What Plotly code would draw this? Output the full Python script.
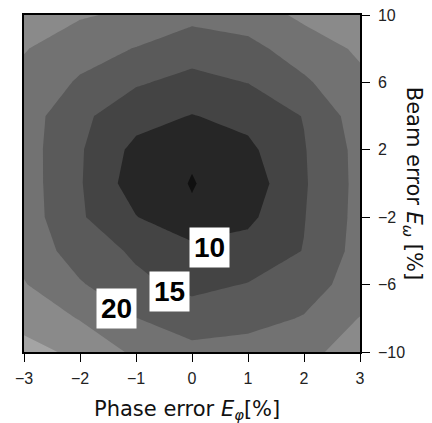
import plotly.graph_objects as go

# Grid
phase_err = [-3, -2, -1, 0, 1, 2, 3]
beam_err = [10, 8, 6, 4, 2, 0, -2, -4, -6, -8, -10]
z_vals = [
    [28.0, 25.5, 24.0, 21.5, 22.5, 26.0, 27.5],
    [25.3, 22.0, 19.8, 17.0, 18.5, 22.5, 25.7],
    [23.5, 19.4, 15.5, 13.6, 15.1, 19.2, 24.0],
    [22.5, 16.0, 12.0, 9.8, 11.5, 15.2, 22.5],
    [22.3, 15.5, 8.6, 5.5, 8.9, 14.7, 21.5],
    [22.4, 15.4, 7.4, 4.8, 7.2, 14.5, 21.4],
    [22.6, 15.6, 10.2, 5.5, 8.9, 14.8, 21.5],
    [23.5, 17.5, 14.3, 11.8, 12.0, 15.15, 21.8],
    [25.3, 20.5, 16.0, 13.8, 15.2, 18.5, 21.5],
    [28.5, 24.7, 20.1, 17.2, 18.9, 20.2, 25.2],
    [31.5, 29.0, 24.0, 21.5, 21.3, 23.5, 27.5],
]
x_ticks = [-3, -2, -1, 0, 1, 2, 3]
y_ticks = [10, 6, 2, -2, -6, -10]

label_text = ["10", "15", "20"]
label_x = [0.32, -0.41, -1.34]
label_y = [-3.8, -6.4, -7.4]

band_colors = ["#101010", "#262626", "#444444", "#5a5a5a", "#727272", "#8a8a8a", "#a4a4a4"]
colorscale = [[i / (len(band_colors) - 1), c] for i, c in enumerate(band_colors)]

fig = go.Figure()
fig.add_trace(go.Contour(
    x=phase_err, y=beam_err, z=z_vals,
    contours=dict(start=5, end=30, size=5, coloring="fill", showlines=False),
    line=dict(width=0, smoothing=0),
    colorscale=colorscale, showscale=False, hoverinfo="skip",
))

for t, lx, ly in zip(label_text, label_x, label_y):
    fig.add_annotation(x=lx, y=ly, xref="x", yref="y", text="<b>%s</b>" % t,
                       showarrow=False, bgcolor="white", borderpad=4,
                       font=dict(family="Liberation Sans", size=28, color="black"))

fig.add_annotation(xref="paper", yref="paper", x=0.485, y=-0.172,
                   text="Phase error <i>E</i><sub><i>φ</i></sub>[%]", showarrow=False,
                   xanchor="center", yanchor="middle",
                   font=dict(family="DejaVu Sans", size=21, color="#111"))
fig.add_annotation(xref="paper", yref="paper", x=1.16, y=0.5, textangle=90,
                   text="Beam error <i>E</i><sub><i>ω</i></sub> [%]", showarrow=False,
                   xanchor="center", yanchor="middle",
                   font=dict(family="DejaVu Sans", size=21, color="#111"))

fig.update_xaxes(range=[-3, 3], tickvals=x_ticks, ticks="outside", ticklen=8,
                 tickcolor="black", showline=True, linecolor="black", linewidth=1.5,
                 mirror=True, showgrid=False, zeroline=False, automargin=False,
                 ticklabelstandoff=3, ticklabeloverflow="allow",
                 tickfont=dict(family="Liberation Sans", size=16, color="#222"))
fig.update_yaxes(range=[-10, 10], tickvals=y_ticks, side="right", ticks="outside",
                 ticklen=8, tickcolor="black", showline=True, linecolor="black",
                 linewidth=1.5, mirror=True, showgrid=False, zeroline=False,
                 automargin=False, ticklabelstandoff=5, ticklabeloverflow="allow",
                 tickfont=dict(family="Liberation Sans", size=16, color="#222"))

fig.update_layout(width=424, height=415,
                  margin=dict(l=16, r=72, t=7, b=71, autoexpand=False),
                  paper_bgcolor="white", plot_bgcolor="white", showlegend=False)

fig.write_html("out.html")
